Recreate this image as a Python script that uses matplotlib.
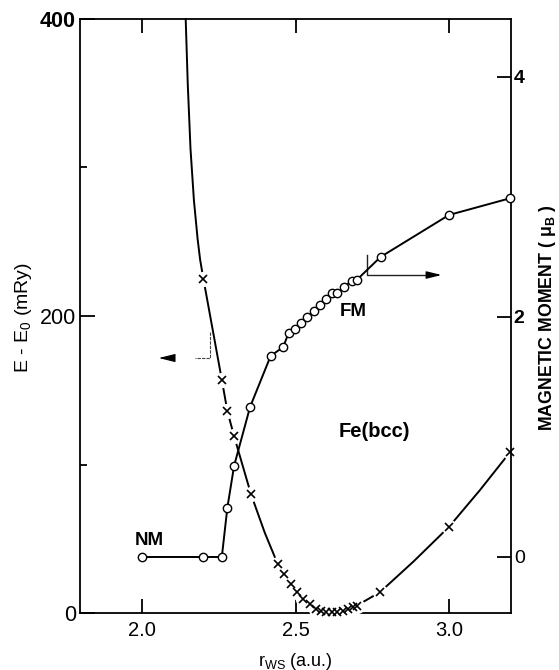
import matplotlib
matplotlib.use("Agg")
import matplotlib.pyplot as plt
from matplotlib.ticker import FixedLocator

plt.rcParams['font.family'] = ['Liberation Sans', 'DejaVu Sans']
plt.rcParams['mathtext.fontset'] = 'custom'
plt.rcParams['mathtext.rm'] = 'Liberation Sans'
plt.rcParams['mathtext.it'] = 'Liberation Sans:italic'
plt.rcParams['mathtext.bf'] = 'Liberation Sans:bold'

# --- total energy E - E0 (mRy), computed points (crosses) ---
energy_r = [2.2, 2.26, 2.278, 2.30, 2.355, 2.442, 2.4625, 2.485, 2.504, 2.523,
            2.547, 2.567, 2.582, 2.599, 2.618, 2.636, 2.654, 2.672, 2.688, 2.70,
            2.775, 3.0, 3.2]
energy_E = [225, 157, 136, 119, 80, 33, 26, 19.5, 14, 9.5,
            6, 3, 1.5, 1.0, 0.8, 1.0, 1.5, 2.5, 4.3, 5.0,
            14, 58, 108.6]

# smooth fitted energy curve
fit_r = [2.1423, 2.1490, 2.1579, 2.1691, 2.1812, 2.1894, 2.2, 2.26, 2.278, 2.30,
         2.355, 2.40, 2.442, 2.4625, 2.485, 2.504, 2.523, 2.547, 2.567, 2.60,
         2.63, 2.66, 2.688, 2.70, 2.775, 2.884, 3.0, 3.101, 3.2]
fit_E = [400, 356.4, 312.8, 277.9, 251.7, 237.8, 225, 157, 136, 119,
         80, 54, 33, 26, 19.5, 14, 9.5, 6, 3, 1.0,
         0.8, 1.5, 4.3, 5.0, 14, 34.6, 58, 82.8, 108.6]

# --- magnetic moment (mu_B), circles: NM branch then FM branch ---
moment_r = [2.0, 2.2, 2.26, 2.278, 2.30, 2.352, 2.419, 2.46, 2.478, 2.498,
            2.517, 2.538, 2.56, 2.58, 2.60, 2.62, 2.636, 2.658, 2.683, 2.70,
            2.777, 3.0, 3.2]
moment_M = [0.0, 0.0, 0.0, 0.41, 0.76, 1.25, 1.675, 1.75, 1.87, 1.90,
            1.95, 2.0, 2.05, 2.10, 2.15, 2.20, 2.20, 2.25, 2.30, 2.31,
            2.50, 2.85, 2.99]

x_ticks = [2.0, 2.5, 3.0]
x_ticklabels = ["2.0", "2.5", "3.0"]
e_ticks = [0, 200, 400]
e_minor = [100, 300]
m_ticks = [0, 2, 4]

fig = plt.figure(figsize=(5.59, 6.70), dpi=100)
ax = fig.add_axes([80 / 559, 1 - 613 / 670, 431 / 559, 594 / 670])
ax2 = ax.twinx()

ax.set_xlim(1.798, 3.202)
ax.set_ylim(0, 400)
ax2.set_ylim(-0.4667, 4.483)

# energy curve with gaps around the crosses
ax.plot(fit_r, fit_E, color='black', lw=1.4, zorder=3, clip_on=False)
ax.plot(energy_r, energy_E, ls='none', marker='o', ms=10, mfc='white',
        mec='white', zorder=3.1, clip_on=False)
ax.plot(energy_r, energy_E, ls='none', marker='x', ms=5.5, mew=1.2,
        color='black', zorder=3.2, clip_on=False)

# magnetic moment curve
ax2.plot(moment_r, moment_M, color='black', lw=1.4, zorder=3, marker='o',
         ms=6, mfc='white', mec='black', mew=1.0, clip_on=False)

# spines
for s in ['left', 'top', 'bottom']:
    ax.spines[s].set_linewidth(1.3)
ax.spines['right'].set_visible(False)
for s in ['left', 'top', 'bottom']:
    ax2.spines[s].set_visible(False)
ax2.spines['right'].set_linewidth(1.3)

# ticks
ax.xaxis.set_major_locator(FixedLocator(x_ticks))
ax.set_xticklabels(x_ticklabels)
ax.yaxis.set_major_locator(FixedLocator(e_ticks))
ax.yaxis.set_minor_locator(FixedLocator(e_minor))
ax.set_yticklabels([str(v) for v in e_ticks])
ax.get_yticklabels()[-1].set_fontweight('bold')
ax.tick_params(axis='x', which='major', direction='in', top=True, bottom=True,
               length=10, width=1.3, pad=6, labelsize=14.5)
ax.tick_params(axis='y', which='major', direction='in', left=True, right=False,
               length=11, width=1.3, pad=3, labelsize=15.5)
ax.tick_params(axis='y', which='minor', direction='in', left=True, right=False,
               length=5, width=1.3)
ax2.yaxis.set_major_locator(FixedLocator(m_ticks))
ax2.set_yticklabels([str(v) for v in m_ticks])
for lbl in ax2.get_yticklabels()[1:]:
    lbl.set_fontweight('bold')
ax2.tick_params(axis='y', which='major', direction='in', right=True,
                length=10, width=1.3, pad=2, labelsize=14)

# axis labels
fig.text(24 / 559, 1 - 318 / 670, r'E - E$_\mathregular{0}$ (mRy)',
         rotation=90, ha='center', va='center', fontsize=14)
fig.text(548 / 559, 1 - 318 / 670, r'MAGNETIC MOMENT ( μ$_\mathregular{B}$ )',
         rotation=90, ha='center', va='center', fontsize=12.8, fontweight='bold')
fig.text(295 / 559, 1 - 661 / 670, r'r$_\mathregular{WS}$ (a.u.)',
         ha='center', va='center', fontsize=13)

# curve labels
ax.text(2.023, 49, 'NM', ha='center', va='center', fontsize=13.5, fontweight='bold')
ax.text(2.687, 203, 'FM', ha='center', va='center', fontsize=13.5, fontweight='bold')
ax.text(2.756, 122, 'Fe(bcc)', ha='center', va='center', fontsize=14.5,
        fontweight='bold')

# axis-pointer brackets
ax.plot([2.2215, 2.2215, 2.1726], [189.2, 171.7, 171.7], color='#444444',
        lw=0.8, ls=(0, (3, 1)), zorder=2)
ax.annotate('', xy=(2.0547, 171.7), xytext=(2.0977, 171.7),
            arrowprops=dict(arrowstyle='-|>,head_length=1.0,head_width=0.25',
                            color='black', lw=0.8, shrinkA=0, shrinkB=0))
ax.plot([2.7329, 2.7329, 2.94], [241.1, 227.6, 227.6], color='#222222',
        lw=1.0, zorder=2)
ax.annotate('', xy=(2.9762, 227.6), xytext=(2.93, 227.6),
            arrowprops=dict(arrowstyle='-|>,head_length=0.9,head_width=0.22',
                            color='black', lw=1.0, shrinkA=0, shrinkB=0))

fig.savefig('out.png', dpi=100)
